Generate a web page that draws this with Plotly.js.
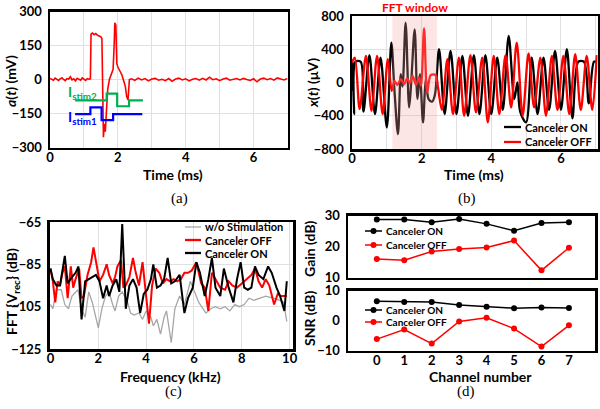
<!DOCTYPE html>
<html><head><meta charset="utf-8">
<script src="https://cdn.plot.ly/plotly-3.0.1.min.js"></script>
<style>html,body{margin:0;padding:0;background:#fff;}#chart{width:600px;height:409px;}</style>
</head><body><div id="chart"></div>
<script>
// ---------- (a) ----------
const aTime = [0.00,0.05,0.10,0.15,0.20,0.25,0.30,0.35,0.40,0.45,0.50,0.55,0.60,0.65,0.70,0.75,0.80,0.85,0.90,0.95,1.00,1.05,1.10,1.15,1.19,
  1.21,1.25,1.30,1.35,1.40,1.45,1.50,1.53,1.555,1.575,1.60,1.63,1.66,1.70,1.75,1.80,1.86,1.89,1.91,1.94,1.97,2.00,2.06,2.12,2.18,2.22,2.26,2.30,2.34,
  2.4,2.5,2.6,2.7,2.8,2.9,3.0,3.1,3.2,3.3,3.4,3.5,3.6,3.7,3.8,3.9,4.0,4.1,4.2,4.3,4.4,4.5,4.6,4.7,4.8,4.9,5.0,5.1,5.2,5.3,5.4,5.5,5.6,5.7,5.8,5.9,6.0,6.1,6.2,6.3,6.4,6.5,6.6,6.7,6.8,6.9,7.0];
const aSignal = [5,2,-3,6,1,-4,3,8,0,-5,4,2,12,-2,3,-6,5,1,-3,7,2,-4,4,1,3,
  200,205,198,203,195,192,188,180,0,-255,-195,-230,-150,-45,0,20,45,150,250,240,70,55,40,20,-10,-30,-75,-90,0,
  3,-4,6,-2,4,-6,2,5,-3,1,-5,4,-8,2,6,-2,3,-6,1,4,-3,5,-2,10,-1,3,-5,2,6,-3,1,4,-2,5,0,-4,3,-10,2,6,-1,4,-3,7,2,-2,5];
const stim2Time = [0.74,1.67,1.98,2.33,2.74];
const stim2Val  = [-92,-62,-118,-92,-92];
const stim1Time = [0.74,1.19,1.52,1.86,2.72];
const stim1Val  = [-153,-123,-179,-153,-153];

// ---------- (b) ----------
const bOffTime = [0.00,0.08,0.22,0.40,0.56,0.72,0.88,1.03,1.14,1.22,1.30,1.40,1.50,1.58,1.66,1.74,1.84,1.92,1.98,2.07,2.16,2.26,2.40,2.47,2.58,2.74,2.90,3.07,3.22,3.40,3.56,3.74,3.90,4.07,4.23,4.41,4.57,4.73,4.90,5.07,5.23,5.41,5.57,5.74,5.90,6.07,6.24,6.41,6.57,6.74,6.90,7.03];
const bOffVal  = [240,300,-320,320,-340,320,-380,280,-100,20,-30,40,-20,50,-10,80,-30,60,-40,650,-120,90,90,-60,-330,280,-380,300,-400,330,-360,300,-480,320,-380,330,-300,480,-400,350,-300,300,-400,320,-330,320,-380,340,-330,320,-330,330];
const bOnTime  = [0.00,0.02,0.06,0.10,0.25,0.33,0.50,0.66,0.82,1.00,1.13,1.22,1.32,1.40,1.45,1.54,1.64,1.70,1.80,1.88,1.95,2.04,2.12,2.20,2.30,2.38,2.50,2.66,2.83,3.00,3.17,3.33,3.50,3.66,3.83,4.00,4.17,4.33,4.50,4.66,4.75,4.83,5.00,5.16,5.33,5.50,5.66,5.83,6.00,6.17,6.33,6.50,6.66,6.80,6.95,7.03];
const bOnVal   = [-100,250,-380,250,250,-350,330,-380,300,-540,480,-100,-620,100,-50,720,-300,0,640,-200,100,-480,50,-200,-230,-150,400,-380,380,-380,320,-400,330,-380,330,-380,300,-330,560,-200,0,-350,-480,300,-380,300,-330,380,-330,400,-430,250,250,-250,250,250];
const fftWindow = [1.16, 2.44];

// ---------- (c) ----------
const cOnF = [0.0,0.1,0.25,0.4,0.6,0.72,0.9,1.05,1.17,1.3,1.45,1.6,1.75,1.9,2.05,2.2,2.35,2.45,2.6,2.75,2.88,3.0,3.15,3.3,3.45,3.6,3.75,3.9,4.05,4.2,4.3,4.45,4.6,4.75,4.9,5.05,5.2,5.4,5.6,5.75,5.95,6.1,6.25,6.45,6.6,6.75,6.9,7.1,7.25,7.45,7.65,7.8,7.95,8.1,8.25,8.4,8.55,8.7,8.9,9.1,9.25,9.45,9.6,9.78,9.88];
const cOnV = [-87,-92,-95,-95,-81,-94,-91,-89,-86,-111,-93,-92,-91,-90,-93,-101,-95,-100,-95,-92,-98,-66,-106,-95,-92,-96,-108,-99,-97,-92,-85,-96,-95,-92,-82,-94,-93,-90,-108,-101,-96,-84,-89,-100,-92,-82,-96,-100,-87,-96,-103,-92,-84,-96,-97,-96,-86,-90,-92,-86,-89,-96,-100,-107,-93];
const cOffF = [0.0,0.1,0.2,0.3,0.4,0.5,0.6,0.72,0.85,0.95,1.05,1.2,1.3,1.4,1.55,1.7,1.8,1.95,2.05,2.2,2.35,2.45,2.6,2.7,2.8,2.95,3.05,3.15,3.3,3.45,3.55,3.7,3.85,4.0,4.12,4.25,4.4,4.55,4.7,4.85,5.0,5.15,5.3,5.45,5.6,5.75,5.9,6.1,6.3,6.45,6.6,6.75,6.9,7.1,7.3,7.45,7.6,7.8,8.0,8.2,8.4,8.55,8.7,8.85,9.0,9.15,9.35,9.5,9.65,9.88];
const cOffV = [-87,-93,-103,-93,-95,-89,-86,-101,-86,-96,-92,-87,-101,-100,-90,-84,-77,-87,-93,-90,-85,-90,-94,-91,-86,-83,-96,-95,-91,-82,-88,-95,-84,-100,-113,-95,-87,-89,-94,-92,-93,-92,-93,-92,-89,-89,-88,-84,-94,-96,-107,-89,-92,-96,-97,-93,-95,-96,-94,-92,-90,-87,-93,-96,-92,-95,-104,-99,-100,-100];
const cNoF = [0.0,0.1,0.25,0.45,0.6,0.75,0.9,1.15,1.3,1.45,1.6,1.75,2.0,2.15,2.3,2.45,2.6,2.7,2.85,3.0,3.2,3.35,3.5,3.7,3.85,4.0,4.2,4.3,4.45,4.6,4.75,4.85,5.05,5.2,5.4,5.6,5.85,6.0,6.2,6.5,6.7,6.9,7.1,7.3,7.5,7.7,7.9,8.1,8.3,8.5,8.75,9.0,9.3,9.6,9.75,9.88];
const cNoV = [-104,-106,-97,-97,-104,-106,-100,-97,-106,-110,-98,-103,-115,-106,-100,-98,-104,-107,-100,-98,-102,-108,-109,-108,-111,-107,-110,-114,-111,-118,-110,-107,-122,-106,-100,-104,-93,-97,-103,-108,-106,-105,-106,-105,-107,-104,-105,-104,-101,-102,-101,-100,-101,-102,-103,-112];

// ---------- (d) ----------
const channels = [0,1,2,3,4,5,6,7];
const gainOn  = [28.7,28.7,27.8,28.9,27.3,25.1,27.6,27.8];
const gainOff = [16.0,15.6,18.4,19.2,19.7,21.9,12.3,19.6];
const snrOn   = [6.4,6.2,6.2,5.2,4.6,4.1,4.3,4.2];
const snrOff  = [-6.2,-3.0,-7.7,-0.3,0.9,-2.7,-8.7,-1.6];

const nameOn = 'Canceler ON', nameOff = 'Canceler OFF', nameNo = 'w/o Stimulation';
const RED = '#ff0000', BLK = '#000000', GRY = '#a6a6a6', GRN = '#00b050', BLU = '#0000ff';
const FONT = 'Lato, "Open Sans", sans-serif';
const W = 600, H = 409;
const fx = x => x / W, fy = y => 1 - y / H;

const traces = [
  {x: aTime, y: aSignal, xaxis:'x', yaxis:'y', mode:'lines', line:{color:RED, width:1.6}},
  {x: stim2Time, y: stim2Val, xaxis:'x', yaxis:'y', mode:'lines', line:{color:GRN, width:2.2, shape:'hv'}},
  {x: stim1Time, y: stim1Val, xaxis:'x', yaxis:'y', mode:'lines', line:{color:BLU, width:2.2, shape:'hv'}},
  {x: bOnTime, y: bOnVal, xaxis:'x2', yaxis:'y2', mode:'lines', name:nameOn, line:{color:BLK, width:2.3, shape:'spline', smoothing:0.9}},
  {x: bOffTime, y: bOffVal, xaxis:'x2', yaxis:'y2', mode:'lines', name:nameOff, line:{color:RED, width:2.3, shape:'spline', smoothing:0.9}},
  {x: cNoF, y: cNoV, xaxis:'x3', yaxis:'y3', mode:'lines', name:nameNo, line:{color:GRY, width:1.3}},
  {x: cOffF, y: cOffV, xaxis:'x3', yaxis:'y3', mode:'lines', name:nameOff, line:{color:RED, width:2}},
  {x: cOnF, y: cOnV, xaxis:'x3', yaxis:'y3', mode:'lines', name:nameOn, line:{color:BLK, width:2}},
  {x: channels, y: gainOn, xaxis:'x4', yaxis:'y4', mode:'lines+markers', name:nameOn, line:{color:BLK, width:1.5}, marker:{color:BLK, size:6}},
  {x: channels, y: gainOff, xaxis:'x4', yaxis:'y4', mode:'lines+markers', name:nameOff, line:{color:RED, width:1.5}, marker:{color:RED, size:6}},
  {x: channels, y: snrOn, xaxis:'x5', yaxis:'y5', mode:'lines+markers', name:nameOn, line:{color:BLK, width:1.5}, marker:{color:BLK, size:6}},
  {x: channels, y: snrOff, xaxis:'x5', yaxis:'y5', mode:'lines+markers', name:nameOff, line:{color:RED, width:1.5}, marker:{color:RED, size:6}}
];

const tickFont = {family:FONT, size:13, color:'#000', weight:'bold'};
const titleFont = {family:FONT, size:14, color:'#000', weight:'bold'};
function ax(extra) {
  return Object.assign({showline:true, mirror:true, linecolor:'#000', linewidth:2.5, ticks:'', ticklen:0, zeroline:false,
    showgrid:true, gridcolor:'#e0e0e0', gridwidth:1, tickfont:tickFont, fixedrange:true, automargin:false}, extra);
}
const xs = {ticklabelstandoff:-4}, ys = {ticklabelstandoff:3};

const layout = {
  width:W, height:H, margin:{l:0,r:0,t:0,b:0}, paper_bgcolor:'#fff', plot_bgcolor:'#fff', showlegend:false,
  font:{family:FONT, color:'#000'},
  xaxis: ax(Object.assign({domain:[fx(50), fx(287.5)], anchor:'y', range:[0,7], dtick:2, tick0:0, minor:{dtick:1, showgrid:true, gridcolor:'#e0e0e0'}}, xs)),
  yaxis: ax(Object.assign({domain:[fy(147.5), fy(11.5)], anchor:'x', range:[-300,300], tickvals:[-300,-150,0,150,300]}, ys)),
  xaxis2: ax(Object.assign({domain:[fx(352), fx(597.5)], anchor:'y2', range:[0,7.05], dtick:2, tick0:0, minor:{dtick:1, showgrid:true, gridcolor:'#e0e0e0'}}, xs)),
  yaxis2: ax(Object.assign({domain:[fy(149), fy(16)], anchor:'x2', range:[-800,800], tickvals:[-800,-400,0,400,800]}, ys)),
  xaxis3: ax(Object.assign({domain:[fx(49.5), fx(293)], anchor:'y3', range:[-0.04,10.14], dtick:2, tick0:0}, xs)),
  yaxis3: ax(Object.assign({domain:[fy(349), fy(222)], anchor:'x3', range:[-125,-65], tickvals:[-125,-105,-85,-65]}, ys)),
  xaxis4: ax({domain:[fx(348), fx(595)], anchor:'y4', range:[-1.05,7.95], showticklabels:false, showgrid:false}),
  yaxis4: ax(Object.assign({domain:[fy(277.5), fy(215.5)], anchor:'x4', range:[10,30], tickvals:[10,20,30], showgrid:false}, ys)),
  xaxis5: ax(Object.assign({domain:[fx(348), fx(595)], anchor:'y5', range:[-1.05,7.95], tickvals:channels, showgrid:false}, xs)),
  yaxis5: ax(Object.assign({domain:[fy(350.5), fy(290.5)], anchor:'x5', range:[-10,10], tickvals:[-10,0,10], showgrid:false}, ys)),
  shapes: [
    {type:'rect', xref:'x2', yref:'y2 domain', x0:fftWindow[0], x1:fftWindow[1], y0:0, y1:1, fillcolor:'rgba(245,160,160,0.28)', line:{width:0}, layer:'above'}
  ],
  annotations: [
    {xref:'x', yref:'y', x:0.47, y:-58, text:'I<sub>stim2</sub>', showarrow:false, xanchor:'left', yanchor:'middle', font:{family:FONT, size:14, color:GRN, weight:'bold'}},
    {xref:'x', yref:'y', x:0.47, y:-167, text:'I<sub>stim1</sub>', showarrow:false, xanchor:'left', yanchor:'middle', font:{family:FONT, size:14, color:BLU, weight:'bold'}},
    {xref:'x2', yref:'paper', x:(fftWindow[0]+fftWindow[1])/2, y:fy(7), text:'FFT window', showarrow:false, xanchor:'center', yanchor:'middle', font:{family:FONT, size:12, color:RED, weight:'bold'}},
    {xref:'paper', yref:'paper', x:fx(170), y:fy(198), text:'(a)', showarrow:false, borderpad:0, font:{family:'Liberation Serif, serif', size:15, color:'#000'}},
    {xref:'paper', yref:'paper', x:fx(477), y:fy(198), text:'(b)', showarrow:false, borderpad:0, font:{family:'Liberation Serif, serif', size:15, color:'#000'}},
    {xref:'paper', yref:'paper', x:fx(164), y:fy(401), text:'(c)', showarrow:false, borderpad:0, font:{family:'Liberation Serif, serif', size:15, color:'#000'}},
    {xref:'paper', yref:'paper', x:fx(476), y:fy(401), text:'(d)', showarrow:false, borderpad:0, font:{family:'Liberation Serif, serif', size:15, color:'#000'}}
  ]
};

// axis titles: [text, x, y, angle]
const axisTitles = [
  ['Time (ms)', 173, 175, 0],
  ['<i>a</i>(<i>t</i>) (mV)', 11, 81, -90],
  ['Time (ms)', 474, 175, 0],
  ['<i>x</i>(<i>t</i>) (μV)', 312, 83, -90],
  ['Frequency (kHz)', 171, 376, 0],
  ['FFT {V<sub>rec</sub>} (dB)', 12, 292, -90],
  ['Gain (dB)', 309, 249, -90],
  ['SNR (dB)', 309, 319, -90],
  ['Channel number', 480, 376, 0]
];
axisTitles.forEach(([t, x, y, a]) => layout.annotations.push({xref:'paper', yref:'paper', x:fx(x), y:fy(y), text:t, textangle:a, showarrow:false, borderpad:0, xanchor:'center', yanchor:'middle', font:titleFont}));

// manual legends: [line x0, line x1, text x, y, name, color, width, marker, font size]
const legendItems = [
  [504, 521, 523, 127, nameOn, BLK, 2.3, false, 11],
  [504, 521, 523, 142, nameOff, RED, 2.3, false, 11],
  [185, 201, 203, 227, nameNo, GRY, 1.3, false, 11],
  [185, 201, 203, 240, nameOff, RED, 2.3, false, 11],
  [185, 201, 203, 253, nameOn, BLK, 2.3, false, 11],
  [365, 382, 384, 231, nameOn, BLK, 1.5, true, 10],
  [365, 382, 384, 245, nameOff, RED, 1.5, true, 10],
  [365, 382, 384, 310, nameOn, BLK, 1.5, true, 10],
  [365, 382, 384, 322, nameOff, RED, 1.5, true, 10]
];
legendItems.forEach(([x0, x1, xt, y, name, color, w, mk, fs]) => {
  layout.shapes.push({type:'line', xref:'paper', yref:'paper', x0:fx(x0), x1:fx(x1), y0:fy(y), y1:fy(y), line:{color:color, width:w}});
  if (mk) {
    const xc = (x0 + x1) / 2;
    layout.shapes.push({type:'circle', xref:'paper', yref:'paper', x0:fx(xc-3), x1:fx(xc+3), y0:fy(y+3), y1:fy(y-3), fillcolor:color, line:{color:color, width:0}});
  }
  layout.annotations.push({xref:'paper', yref:'paper', x:fx(xt), y:fy(y), text:name, showarrow:false, xanchor:'left', yanchor:'middle', font:{family:FONT, size:fs, color:'#000', weight:'bold'}});
});

Plotly.newPlot('chart', traces, layout, {staticPlot:true, displayModeBar:false});
</script></body></html>
